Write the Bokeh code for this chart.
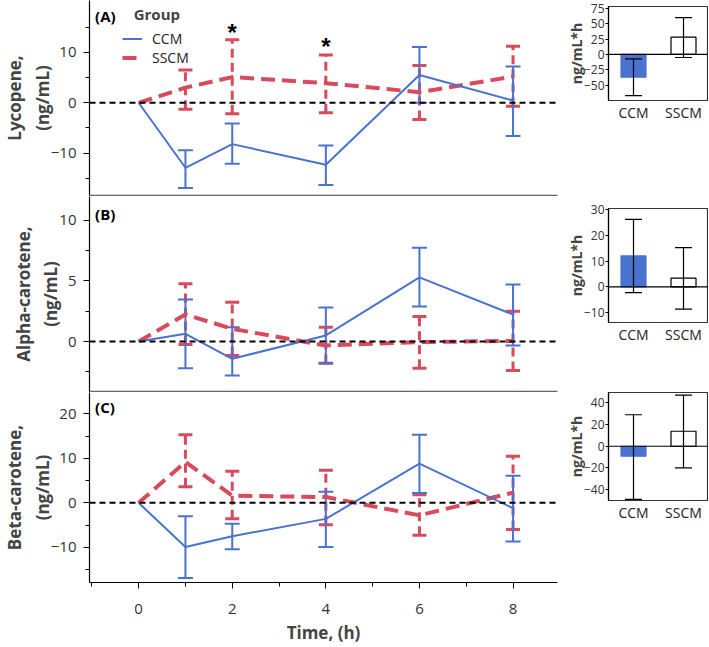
from bokeh.plotting import figure
from bokeh.models import (Range1d, FactorRange, FixedTicker, Span, Whisker, ColumnDataSource,
                          TeeHead, Label, Legend, LegendItem)
from bokeh.layouts import row, column
from bokeh.embed import file_html
from bokeh.resources import INLINE

BLUE = "#4A72CF"
RED = "#D84A5C"
FONT = "Open Sans"

# ---------------- data ----------------
time = [0, 1, 2, 4, 6, 8]
time_err = [1, 2, 4, 6, 8]

# (A) Lycopene
lyc_ccm = [0, -12.9, -8.2, -12.3, 5.5, 0.45]
lyc_ccm_lo = [-16.9, -12.1, -16.3, 0.0, -6.6]
lyc_ccm_hi = [-9.4, -4.1, -8.5, 11.05, 7.2]
lyc_sscm = [0, 3.0, 5.1, 3.9, 2.1, 5.2]
lyc_sscm_lo = [-1.3, -2.2, -2.0, -3.3, -0.7]
lyc_sscm_hi = [6.5, 12.5, 9.5, 7.4, 11.2]

# (B) Alpha-carotene
alp_ccm = [0, 0.64, -1.43, 0.5, 5.3, 2.23]
alp_ccm_lo = [-2.2, -2.8, -1.8, 2.9, -0.33]
alp_ccm_hi = [3.47, 1.18, 2.8, 7.74, 4.7]
alp_sscm = [0, 2.23, 1.05, -0.33, -0.05, 0.05]
alp_sscm_lo = [-0.25, -1.15, -1.8, -2.2, -2.4]
alp_sscm_hi = [4.77, 3.25, 1.18, 2.07, 2.5]

# (C) Beta-carotene
bet_ccm = [0, -9.9, -7.5, -3.6, 8.8, -1.2]
bet_ccm_lo = [-16.9, -10.4, -9.9, 2.2, -8.7]
bet_ccm_hi = [-3.0, -4.7, 2.5, 15.3, 6.1]
bet_sscm = [0, 9.2, 1.6, 1.3, -2.8, 2.3]
bet_sscm_lo = [3.6, -3.6, -4.9, -7.3, -6.0]
bet_sscm_hi = [15.3, 7.1, 7.3, 1.8, 10.5]

# significance marks (panel A)
star_x = [2, 4]
star_y = [14.0, 11.2]

# AUC bar charts
groups = ["CCM", "SSCM"]
lyc_auc = [-37, 28]
lyc_auc_lo = [-67, -5]
lyc_auc_hi = [-7.3, 60]
alp_auc = [12.0, 3.4]
alp_auc_lo = [-2.2, -8.6]
alp_auc_hi = [26.2, 15.2]
bet_auc = [-9.2, 13.8]
bet_auc_lo = [-49, -19.9]
bet_auc_hi = [29, 47]

MINUS = "\u2212"


def minus_overrides(ticks):
    return {t: (MINUS + str(abs(t)) if t < 0 else str(t)) for t in ticks}


def set_int(obj, attr, val, fallback):
    try:
        setattr(obj, attr, val)
    except Exception:
        setattr(obj, attr, fallback)


def style_yaxis(ax, size="14px"):
    ax.axis_line_color = "black"
    ax.axis_line_width = 1.2
    ax.major_tick_line_color = "black"
    ax.minor_tick_line_color = "black"
    ax.major_tick_in = 0
    ax.minor_tick_in = 0
    ax.major_label_text_font = FONT
    ax.major_label_text_font_size = size
    ax.major_label_text_color = "#333333"
    ax.axis_label_text_font = FONT
    ax.axis_label_text_font_style = "bold"


def main_panel(title_lbl, letter, letter_y, cm, clo, chi, sm, slo, shi, yr, major, minor,
               height, bbottom, last):
    p = figure(width=558, height=height, x_range=Range1d(-1.05, 8.95), y_range=Range1d(*yr),
               output_backend="svg", toolbar_location=None,
               min_border_left=89, min_border_right=1, min_border_top=0,
               min_border_bottom=bbottom)
    p.outline_line_color = None
    p.grid.visible = False
    # y axis
    p.yaxis.ticker = FixedTicker(ticks=major, minor_ticks=minor)
    p.yaxis.major_label_overrides = minus_overrides(major)
    style_yaxis(p.yaxis[0], "15px")
    p.yaxis.major_tick_out = 6
    p.yaxis.minor_tick_out = 4
    p.yaxis.major_label_standoff = 7
    p.yaxis.axis_label = title_lbl
    p.yaxis.axis_label_text_font_size = "17px"
    set_int(p.yaxis[0], "axis_label_standoff", -6, 0)
    # x axis
    if last:
        p.xaxis.ticker = FixedTicker(ticks=[0, 2, 4, 6, 8], minor_ticks=[-1, 1, 3, 5, 7])
        p.xaxis.axis_line_color = "black"
        p.xaxis.axis_line_width = 1.2
        p.xaxis.major_tick_line_color = "black"
        p.xaxis.minor_tick_line_color = "black"
        p.xaxis.major_tick_in = 0
        p.xaxis.minor_tick_in = 0
        p.xaxis.major_tick_out = 6
        p.xaxis.minor_tick_out = 4
        p.xaxis.major_label_text_font = FONT
        p.xaxis.major_label_text_font_size = "15px"
        p.xaxis.major_label_text_color = "#333333"
        p.xaxis.major_label_standoff = 15
        p.xaxis.axis_label = "Time, (h)"
        p.xaxis.axis_label_text_font = FONT
        p.xaxis.axis_label_text_font_style = "bold"
        p.xaxis.axis_label_text_font_size = "17px"
        p.xaxis.axis_label_standoff = 4
    else:
        p.xaxis.ticker = FixedTicker(ticks=[], minor_ticks=[])
        p.xaxis.axis_line_color = "#666666"
        p.xaxis.axis_line_width = 1.5
        p.xaxis.major_tick_line_color = None
        p.xaxis.minor_tick_line_color = None
        p.xaxis.major_tick_out = 0
        p.xaxis.minor_tick_out = 0
        p.xaxis.major_label_standoff = 0

    p.add_layout(Span(location=0, dimension="width", line_color="black",
                      line_width=2, line_dash="6 4"))

    src_c = ColumnDataSource(dict(x=time_err, lo=clo, hi=chi))
    src_s = ColumnDataSource(dict(x=time_err, lo=slo, hi=shi))
    p.add_layout(Whisker(source=src_s, base="x", lower="lo", upper="hi",
                         line_color=RED, line_width=3, line_dash="9 5",
                         upper_head=TeeHead(size=14, line_color=RED, line_width=3),
                         lower_head=TeeHead(size=14, line_color=RED, line_width=3)))
    p.add_layout(Whisker(source=src_c, base="x", lower="lo", upper="hi",
                         line_color=BLUE, line_width=2,
                         upper_head=TeeHead(size=15, line_color=BLUE, line_width=2),
                         lower_head=TeeHead(size=15, line_color=BLUE, line_width=2)))
    rs = p.line(time, sm, line_color=RED, line_width=4, line_dash="14 7")
    rc = p.line(time, cm, line_color=BLUE, line_width=2)

    p.add_layout(Label(x=-0.93, y=letter_y, text=letter, text_font=FONT,
                       text_font_style="bold", text_font_size="15px",
                       text_baseline="middle", text_color="black"))
    return p, rc, rs


pA, rcA, rsA = main_panel("Lycopene,\n(ng/mL)", "(A)", 17.2, lyc_ccm, lyc_ccm_lo, lyc_ccm_hi,
                          lyc_sscm, lyc_sscm_lo, lyc_sscm_hi, (-18.4, 20.3),
                          [-10, 0, 10], [-15, -5, 5, 15], 196, 1, False)
pB, _, _ = main_panel("Alpha-carotene,\n(ng/mL)", "(B)", 10.5, alp_ccm, alp_ccm_lo, alp_ccm_hi,
                      alp_sscm, alp_sscm_lo, alp_sscm_hi, (-4.13, 11.98),
                      [0, 5, 10], [-2.5, 2.5, 7.5], 196, 1, False)
pC, _, _ = main_panel("Beta-carotene,\n(ng/mL)", "(C)", 21.6, bet_ccm, bet_ccm_lo, bet_ccm_hi,
                      bet_sscm, bet_sscm_lo, bet_sscm_hi, (-17.9, 24.8),
                      [-10, 0, 10, 20], [-15, -5, 5, 15], 254, 62, True)

pA.text(x=star_x, y=star_y, text=["*", "*"], text_font_size="24px", text_align="center",
        text_baseline="middle", text_color="black", text_font_style="bold")

legend = Legend(items=[LegendItem(label="CCM", renderers=[rcA]),
                       LegendItem(label="SSCM", renderers=[rsA])],
                title="\u00a0\u00a0\u00a0Group", location=(33, 128), orientation="vertical",
                title_text_font=FONT, title_text_font_style="bold", title_text_font_size="15px",
                label_text_font=FONT, label_text_font_size="14px", label_text_color="#222222",
                glyph_width=20, glyph_height=13, label_height=13,
                padding=0, margin=0, label_standoff=10, title_standoff=5,
                border_line_color=None, background_fill_alpha=0)
set_int(legend, "spacing", -2, 0)
pA.add_layout(legend)


def bar_panel(vals, lo, hi, yr, ticks, height, btop, bbottom):
    p = figure(width=150, height=height, x_range=FactorRange(*groups), y_range=Range1d(*yr),
               output_backend="svg", toolbar_location=None,
               min_border_left=50, min_border_right=0, min_border_top=btop,
               min_border_bottom=bbottom)
    p.grid.visible = False
    p.outline_line_color = "#333333"
    p.outline_line_width = 1.2
    p.x_range.range_padding = 0
    src = ColumnDataSource(dict(g=groups, v=vals, lo=lo, hi=hi,
                                fill=[BLUE, "white"], line=[BLUE, "black"]))
    p.vbar(x="g", top="v", bottom=0, width=0.5, fill_color="fill", line_color="line",
           line_width=1.2, source=src)
    p.add_layout(Span(location=0, dimension="width", line_color="black", line_width=1.2))
    p.add_layout(Whisker(source=src, base="g", lower="lo", upper="hi", line_color="black",
                         line_width=1.2, level="overlay",
                         upper_head=TeeHead(size=17, line_color="black", line_width=1.2),
                         lower_head=TeeHead(size=17, line_color="black", line_width=1.2)))
    p.yaxis.ticker = FixedTicker(ticks=ticks)
    p.yaxis.major_label_overrides = minus_overrides(ticks)
    style_yaxis(p.yaxis[0], "12px")
    p.yaxis.major_tick_out = 3
    p.yaxis.minor_tick_out = 0
    p.yaxis.major_label_standoff = 1
    p.yaxis.axis_label = "ng/mL*h"
    p.yaxis.axis_label_text_font_size = "14px"
    set_int(p.yaxis[0], "axis_label_standoff", -5, 0)
    p.xaxis.axis_line_color = None
    p.xaxis.major_tick_line_color = None
    p.xaxis.minor_tick_line_color = None
    p.xaxis.major_tick_out = 0
    p.xaxis.major_tick_in = 0
    p.xaxis.major_label_text_font = FONT
    p.xaxis.major_label_text_font_size = "14px"
    p.xaxis.major_label_text_color = "#222222"
    p.xaxis.major_label_standoff = 2
    return p


bA = bar_panel(lyc_auc, lyc_auc_lo, lyc_auc_hi, (-75, 78), [-50, -25, 0, 25, 50, 75], 196, 6, 96)
bB = bar_panel(alp_auc, alp_auc_lo, alp_auc_hi, (-13.8, 30.4), [-10, 0, 10, 20, 30], 196, 12, 70)
bC = bar_panel(bet_auc, bet_auc_lo, bet_auc_hi, (-50, 49.5), [-40, -20, 0, 20, 40], 254, 0, 146)

layout = row(column(pA, pB, pC, spacing=0), column(bA, bB, bC, spacing=0), spacing=0)

open("out.html", "w").write(file_html(layout, INLINE, "Carotenoids"))
